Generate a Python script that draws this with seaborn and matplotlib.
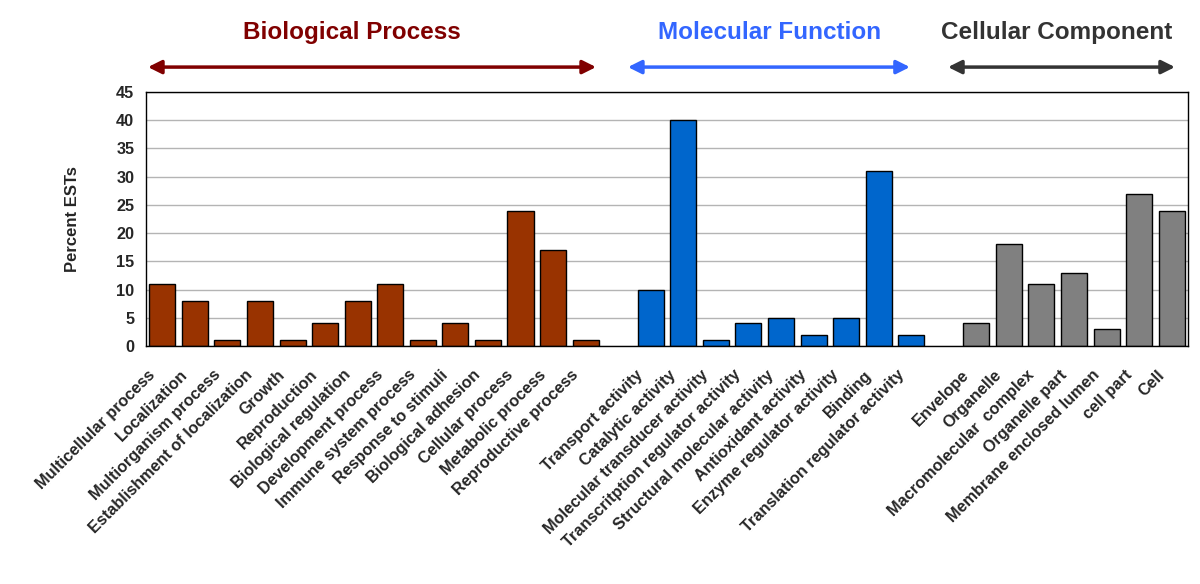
import pandas as pd
import matplotlib.pyplot as plt
import matplotlib.transforms as mtransforms
import seaborn as sns

# GO categories and percent of ESTs
bp_terms = ['Multicellular process', 'Localization', 'Multiorganism process',
            'Establishment of localization', 'Growth', 'Reproduction',
            'Biological regulation', 'Development process', 'Immune system process',
            'Response to stimuli', 'Biological adhesion', 'Cellular process',
            'Metabolic process', 'Reproductive process']
bp_values = [11, 8, 1, 8, 1, 4, 8, 11, 1, 4, 1, 24, 17, 1]

mf_terms = ['Transport activity', 'Catalytic activity', 'Molecular transducer activity',
            'Transcritption regulator activity', 'Structural molecular activity',
            'Antioxidant activity', 'Enzyme regulator activity', 'Binding',
            'Translation regulator activity']
mf_values = [10, 40, 1, 4, 5, 2, 5, 31, 2]

cc_terms = ['Envelope', 'Organelle', 'Macromolecular  complex', 'Organelle part',
            'Membrane enclosed lumen', 'cell part', 'Cell']
cc_values = [4, 18, 11, 13, 3, 27, 24]

groups = ['Biological Process', 'Molecular Function', 'Cellular Component']
bar_colors = ['#993300', '#0066CC', '#808080']
title_colors = ['#800000', '#3366FF', '#333333']

df = pd.DataFrame({
    'term': bp_terms + mf_terms + cc_terms,
    'pct': bp_values + mf_values + cc_values,
    'group': [groups[0]] * len(bp_terms) + [groups[1]] * len(mf_terms) + [groups[2]] * len(cc_terms),
})

# empty slots between the three GO branches
gap1, gap2 = ' ', '  '
order = bp_terms + [gap1] + mf_terms + [gap2] + cc_terms

sns.set_style('white')
plt.rcParams['font.family'] = ['Liberation Sans', 'DejaVu Sans']

fig = plt.figure(figsize=(12, 5.84), dpi=100)
ax = fig.add_axes([0.1217, 0.4075, 0.8683, 0.435])

sns.barplot(data=df, x='term', y='pct', hue='group', order=order, hue_order=groups,
            palette=bar_colors, saturation=1, dodge=False, width=0.8,
            edgecolor='black', linewidth=1.0, legend=False, ax=ax)

n = len(order)
ax.set_xlim(-0.5, n - 0.5)
ax.set_ylim(0, 45)
ax.set_yticks(range(0, 46, 5))
ax.yaxis.grid(True, color='#b4b4b4', linewidth=1)
ax.set_axisbelow(True)

# category ticks sit between the bars
ax.set_xticks(range(n))
ax.set_xticks([i - 0.5 for i in range(n + 1)], minor=True)
ax.tick_params(axis='x', which='major', length=0, pad=8)
ax.tick_params(axis='x', which='minor', length=5, color='#808080', width=1)
ax.tick_params(axis='y', length=5, color='#808080', labelsize=11.7)
ax.set_xticklabels(order, rotation=45, ha='right', rotation_mode='anchor',
                   fontsize=11.7, fontweight='bold')
shift = mtransforms.ScaledTranslation(-0.15, -0.10, fig.dpi_scale_trans)
for lab in ax.get_xticklabels():
    lab.set_transform(lab.get_transform() + shift)
for lab in ax.get_yticklabels():
    lab.set_fontweight('bold')

ax.set_xlabel('')
ax.set_ylabel('Percent ESTs', fontsize=12, fontweight='bold', labelpad=26)

for side in ['left', 'right', 'top', 'bottom']:
    ax.spines[side].set_visible(True)
    ax.spines[side].set_color('black')
    ax.spines[side].set_linewidth(1)

# group headers with double arrows
arrow_spans = [(-0.44, 13.32), (14.30, 22.96), (24.13, 31.10)]
title_x = [5.83, 18.66, 27.45]
for (x0, x1), tx, name, col in zip(arrow_spans, title_x, groups, title_colors):
    ax.annotate('', xy=(x1, 1.098), xytext=(x0, 1.098), xycoords=('data', 'axes fraction'),
                arrowprops=dict(arrowstyle='<|-|>', color=col, lw=2.5,
                                mutation_scale=20, shrinkA=0, shrinkB=0),
                annotation_clip=False)
    ax.text(tx, 1.236, name, transform=ax.get_xaxis_transform(),
            ha='center', va='center', fontsize=17.5, fontweight='bold', color=col)

plt.savefig('out.png', dpi=100)
